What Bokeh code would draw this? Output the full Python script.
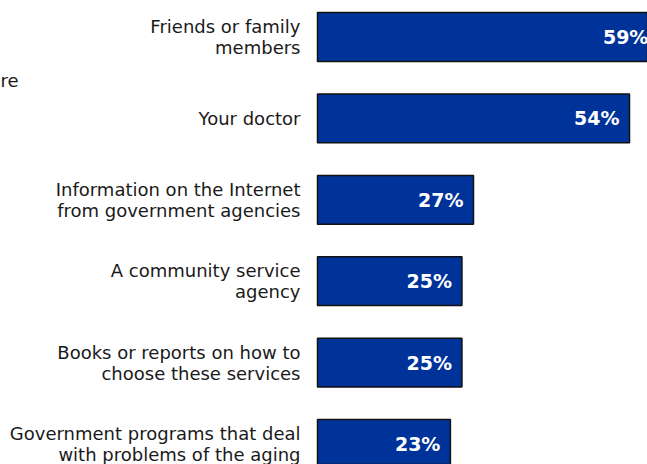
from bokeh.plotting import figure
from bokeh.models import ColumnDataSource, Range1d, Label
from bokeh.core.properties import value
from bokeh.embed import file_html
from bokeh.resources import INLINE

categories = [
    "Friends or family\nmembers",
    "Your doctor",
    "Information on the Internet\nfrom government agencies",
    "A community service\nagency",
    "Books or reports on how to\nchoose these services",
    "Government programs that deal\nwith problems of the aging",
]
values = [59, 54, 27, 25, 25, 23]

idx = list(range(len(categories)))
src = ColumnDataSource(dict(
    y=idx,
    cat=categories,
    val=values,
    lbl=[f"{v}%" for v in values],
))

W, H = 647, 464
px_per_pct = 5.778
zero_px = 317
row_px = 81.4
first_px = 36.5
x0 = -zero_px / px_per_pct
y_top = -first_px / row_px

p = figure(width=W, height=H, output_backend="svg", toolbar_location=None,
           x_range=Range1d(x0, x0 + W / px_per_pct),
           y_range=Range1d(y_top + H / row_px, y_top),
           min_border=0, outline_line_color=None)
p.axis.visible = False
p.grid.visible = False
p.background_fill_color = "white"
p.border_fill_color = "white"

p.hbar(y="y", left=0, right="val", height=0.6, source=src,
       fill_color="#003399", line_color="#111111", line_width=1.5)

p.text(x=0, y="y", text="cat", source=src, x_offset=-17,
       text_align="right", text_baseline="middle",
       text_font=value("DejaVu Sans"), text_font_size="18px",
       text_color="#1a1a1a", text_line_height=1.0)

p.text(x="val", y="y", text="lbl", source=src, x_offset=-10,
       text_align="right", text_baseline="middle",
       text_font=value("DejaVu Sans"), text_font_size="19px",
       text_font_style="bold", text_color="white")

p.add_layout(Label(x=0, y=H - 80, x_units="screen", y_units="screen",
                   text="re", text_baseline="middle",
                   text_font="DejaVu Sans", text_font_size="18px",
                   text_color="#1a1a1a"))

open("out.html", "w").write(file_html(p, INLINE))
